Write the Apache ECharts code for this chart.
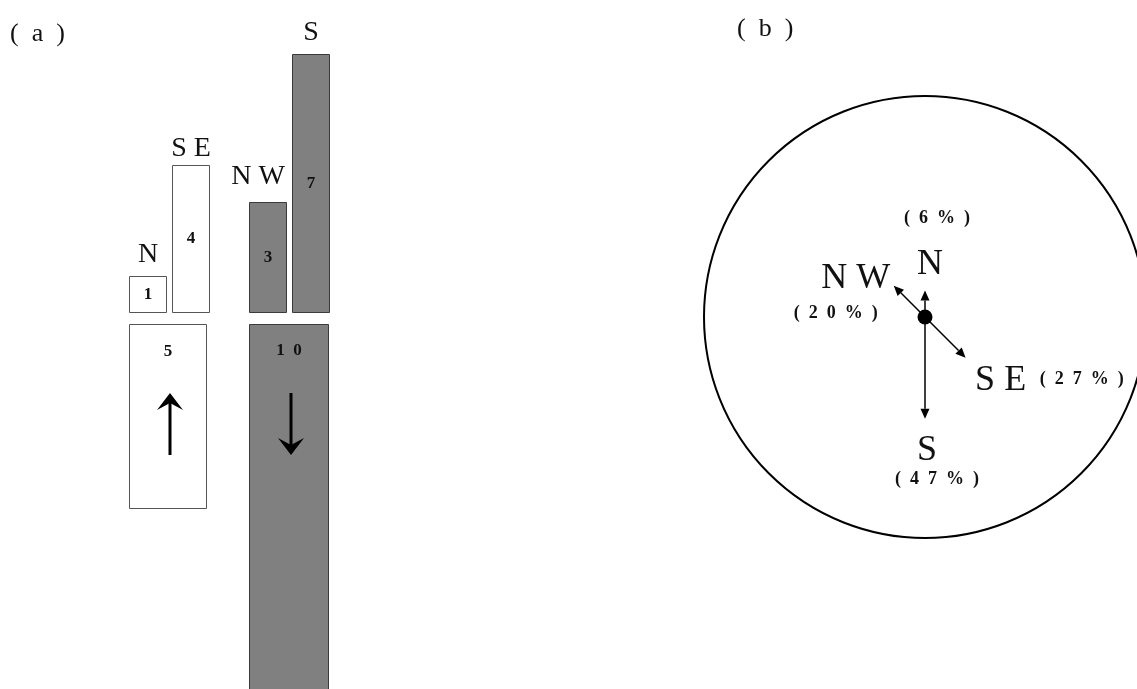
<!DOCTYPE html>
<html>
<head>
<meta charset="utf-8">
<script src="https://cdn.jsdelivr.net/npm/echarts@6/dist/echarts.min.js"></script>
<style>html,body{margin:0;padding:0;background:#fff}#chart{width:1137px;height:689px}</style>
</head>
<body>
<div id="chart"></div>
<script>
// ---- data ----
const whiteDirs = ['N', 'SE'];
const whiteCounts = [1, 4];
const grayDirs = ['NW', 'S'];
const grayCounts = [3, 7];
const totalCats = ['up', 'down'];
const totalCounts = [5, 10];
const roseDirs = ['N', 'NW', 'SE', 'S'];
const rosePct = [6, 20, 27, 47];
const roseAngle = [0, 315, 135, 180];
const roseLen = [12, 20, 26, 46];

// ---- layout / style ----
const FONT = '"Liberation Serif", "DejaVu Serif", serif';
const EN = '\u2002';
const spaced = s => s.split('').join(' ');
const numSpaced = v => String(v).split('').join(EN);
const pctText = p => ['(', ...String(p).split(''), '%', ')'].join(EN);
const nameGap = { N: 7, SE: 2, NW: 11, S: 7 };
const nameShift = { N: [0, 0], SE: [0, 0], NW: [-10, 0], S: [0, 0] };
const roseNameOff = { N: [5, -26], NW: [-38, -7], SE: [35, 23], S: [2, 32] };
const rosePctOff = { N: [12, -72], NW: [-58, 28], SE: [116, 22], S: [12, 61] };

const valueLabel = { show: true, position: 'inside', color: '#111', fontFamily: FONT, fontSize: 17, fontWeight: 'bold' };
const nameItems = (dirs, counts) => dirs.map((d, i) => ({
  value: counts[i], name: d,
  label: { distance: nameGap[d], offset: nameShift[d] }
}));
const nameLabel = { show: true, position: 'top', color: '#111', fontFamily: FONT, fontSize: 28, formatter: p => spaced(p.name) };

function arrowRender(dir) {
  return function (params, api) {
    const top = api.coord([api.value(0), 0]);
    const x = top[0] + 2;
    const yA = top[1] + 69, yB = top[1] + 131;
    const tipY = dir === 'up' ? yA : yB;
    const tailY = dir === 'up' ? yB : yA;
    const s = dir === 'up' ? 1 : -1;
    return {
      type: 'group',
      children: [
        { type: 'line', shape: { x1: x, y1: tailY, x2: x, y2: tipY + s * 6 }, style: { stroke: '#000', lineWidth: 3 } },
        { type: 'polygon', shape: { points: [[x, tipY], [x - 13, tipY + s * 17], [x, tipY + s * 10], [x + 13, tipY + s * 17]] }, style: { fill: '#000' } }
      ]
    };
  };
}

function roseRender(params, api) {
  const i = params.dataIndex;
  const d = roseDirs[i];
  const p0 = api.coord([0, api.value(1)]);
  const p1 = api.coord([api.value(0), api.value(1)]);
  const dx = p1[0] - p0[0], dy = p1[1] - p0[1];
  const L = Math.sqrt(dx * dx + dy * dy) || 1;
  const ux = dx / L, uy = dy / L, nx = -uy, ny = ux;
  const hl = 10, hw = 4.5;
  const bx = p1[0] - ux * hl, by = p1[1] - uy * hl;
  return {
    type: 'group',
    children: [
      { type: 'line', shape: { x1: p0[0], y1: p0[1], x2: bx, y2: by }, style: { stroke: '#000', lineWidth: 1.5 } },
      { type: 'polygon', shape: { points: [[p1[0], p1[1]], [bx + nx * hw, by + ny * hw], [bx - nx * hw, by - ny * hw]] }, style: { fill: '#000' } },
      { type: 'text', x: p1[0] + roseNameOff[d][0], y: p1[1] + roseNameOff[d][1],
        style: { text: spaced(d), fill: '#111', font: '36px ' + FONT, align: 'center', verticalAlign: 'middle' } },
      { type: 'text', x: p1[0] + rosePctOff[d][0], y: p1[1] + rosePctOff[d][1],
        style: { text: pctText(rosePct[i]), fill: '#111', font: 'bold 18px ' + FONT, align: 'center', verticalAlign: 'middle' } }
    ]
  };
}

const hiddenCat = (data, gi) => ({ type: 'category', gridIndex: gi, data: data, show: false });
const hiddenVal = (gi, max, inv) => ({ type: 'value', gridIndex: gi, min: 0, max: max, inverse: !!inv, show: false, splitLine: { show: false } });

const option = {
  animation: false,
  backgroundColor: '#fff',
  title: [
    { text: '(' + EN + 'a' + EN + ')', left: 10, top: 21, padding: 0, textStyle: { fontFamily: FONT, fontSize: 26, fontWeight: 'normal', color: '#111' } },
    { text: '(' + EN + 'b' + EN + ')', left: 737, top: 16, padding: 0, textStyle: { fontFamily: FONT, fontSize: 26, fontWeight: 'normal', color: '#111' } }
  ],
  grid: [
    { left: 126.5, width: 86, top: 17, height: 296, outerBoundsMode: 'none' },
    { left: 246.5, width: 86, top: 17, height: 296, outerBoundsMode: 'none' },
    { left: 129, width: 78, top: 324, height: 370, outerBoundsMode: 'none' },
    { left: 249, width: 80, top: 324, height: 370, outerBoundsMode: 'none' }
  ],
  xAxis: [
    hiddenCat(whiteDirs, 0), hiddenCat(grayDirs, 1), hiddenCat([totalCats[0]], 2), hiddenCat([totalCats[1]], 3)
  ],
  yAxis: [
    hiddenVal(0, 8), hiddenVal(1, 8), hiddenVal(2, 10, true), hiddenVal(3, 10, true)
  ],
  polar: { center: [925, 317], radius: 221 },
  angleAxis: {
    type: 'value', min: 0, max: 360, startAngle: 90, clockwise: true,
    axisLine: { show: true, lineStyle: { color: '#000', width: 2 } },
    axisTick: { show: false }, axisLabel: { show: false }, splitLine: { show: false }, splitArea: { show: false }
  },
  radiusAxis: {
    type: 'value', min: 0, max: 100,
    axisLine: { show: false }, axisTick: { show: false }, axisLabel: { show: false }, splitLine: { show: false }, splitArea: { show: false }
  },
  series: [
    { type: 'bar', xAxisIndex: 0, yAxisIndex: 0, data: whiteCounts, barWidth: 38,
      itemStyle: { color: '#fff', borderColor: '#555', borderWidth: 1 }, label: valueLabel },
    { type: 'bar', xAxisIndex: 0, yAxisIndex: 0, data: nameItems(whiteDirs, whiteCounts), barWidth: 38, barGap: '-100%',
      itemStyle: { color: 'rgba(0,0,0,0)' }, label: nameLabel, z: 1 },
    { type: 'bar', xAxisIndex: 1, yAxisIndex: 1, data: grayCounts, barWidth: 38,
      itemStyle: { color: '#808080', borderColor: '#3a3a3a', borderWidth: 1 }, label: valueLabel },
    { type: 'bar', xAxisIndex: 1, yAxisIndex: 1, data: nameItems(grayDirs, grayCounts), barWidth: 38, barGap: '-100%',
      itemStyle: { color: 'rgba(0,0,0,0)' }, label: nameLabel, z: 1 },
    { type: 'bar', xAxisIndex: 2, yAxisIndex: 2, data: [totalCounts[0]], barWidth: 78,
      itemStyle: { color: '#fff', borderColor: '#555', borderWidth: 1 },
      label: Object.assign({}, valueLabel, { position: 'insideTop', distance: 19, formatter: p => numSpaced(p.value) }) },
    { type: 'bar', xAxisIndex: 3, yAxisIndex: 3, data: [totalCounts[1]], barWidth: 80,
      itemStyle: { color: '#808080', borderColor: '#3a3a3a', borderWidth: 1 },
      label: Object.assign({}, valueLabel, { position: 'insideTop', distance: 18, formatter: p => numSpaced(p.value) }) },
    { type: 'custom', xAxisIndex: 2, yAxisIndex: 2, data: [[0, 0]], renderItem: arrowRender(totalCats[0]), z: 5 },
    { type: 'custom', xAxisIndex: 3, yAxisIndex: 3, data: [[0, 0]], renderItem: arrowRender(totalCats[1]), z: 5 },
    { type: 'custom', coordinateSystem: 'polar', data: roseDirs.map((d, i) => [roseLen[i], roseAngle[i]]), renderItem: roseRender, z: 3 },
    { type: 'scatter', coordinateSystem: 'polar', data: [[0, 0]], symbolSize: 15, itemStyle: { color: '#000', opacity: 1 }, z: 6 }
  ]
};

const chart = echarts.init(document.getElementById('chart'), null, { renderer: 'canvas' });
chart.setOption(option);
</script>
</body>
</html>
